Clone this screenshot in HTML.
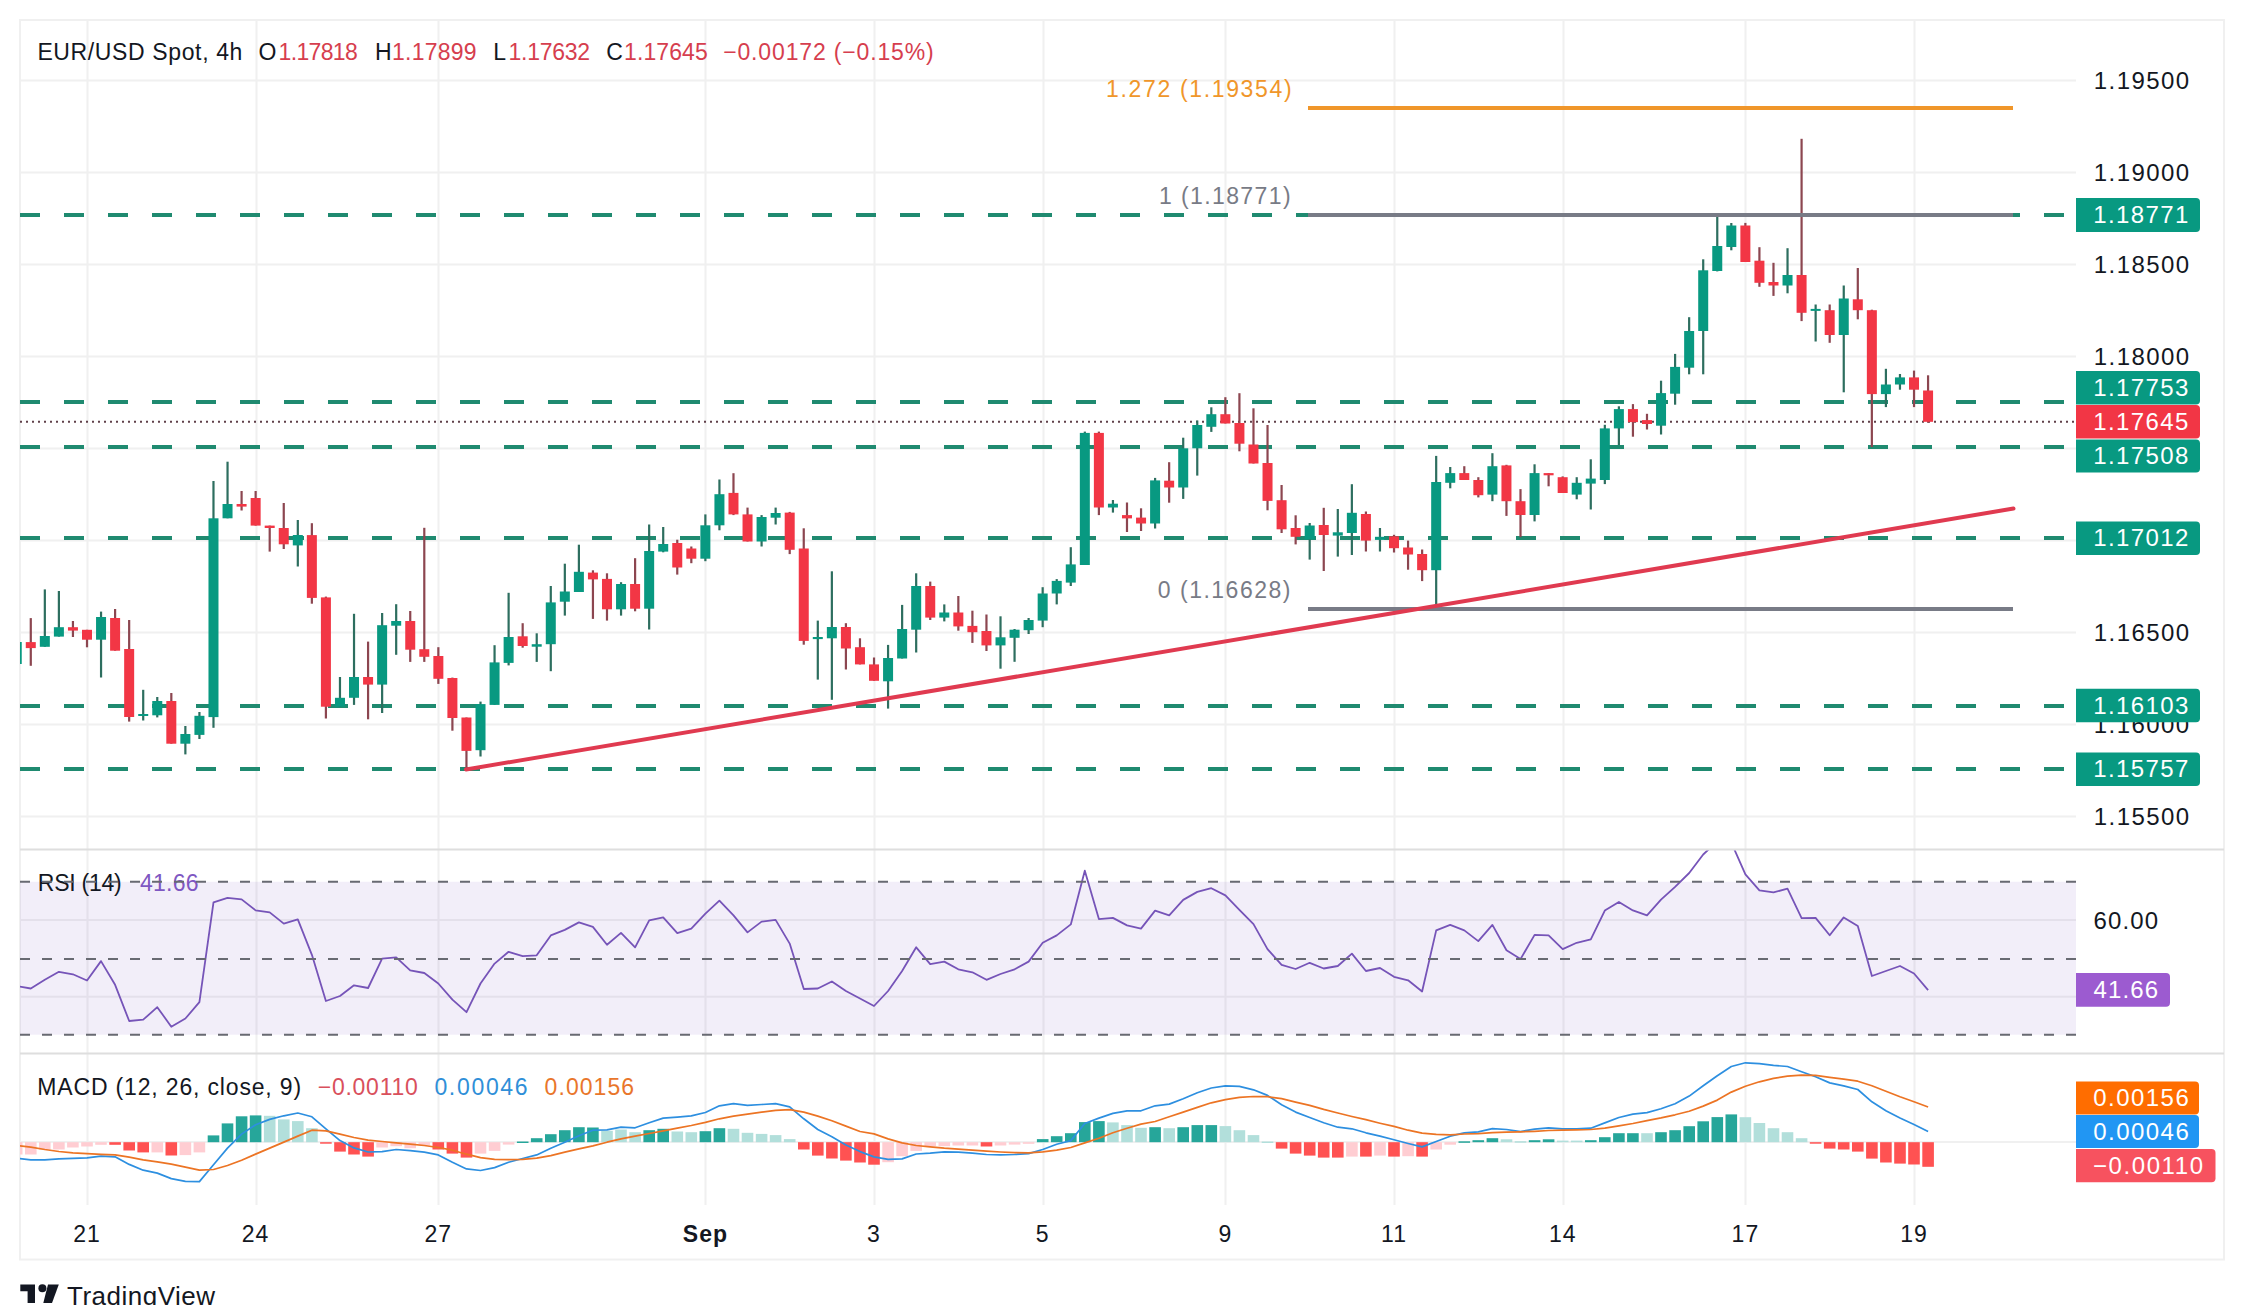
<!DOCTYPE html><html><head><meta charset="utf-8"><title>EUR/USD Spot 4h</title><style>html,body{margin:0;padding:0;background:#fff;overflow:hidden}svg{display:block}</style></head><body><svg width="2244" height="1305" viewBox="0 0 2244 1305"><rect x="0" y="0" width="2244" height="1305" fill="#ffffff"/><line x1="87.5" y1="19" x2="87.5" y2="1205" stroke="#f0f0f0" stroke-width="2"/><line x1="256.5" y1="19" x2="256.5" y2="1205" stroke="#f0f0f0" stroke-width="2"/><line x1="438.5" y1="19" x2="438.5" y2="1205" stroke="#f0f0f0" stroke-width="2"/><line x1="705.5" y1="19" x2="705.5" y2="1205" stroke="#f0f0f0" stroke-width="2"/><line x1="874.5" y1="19" x2="874.5" y2="1205" stroke="#f0f0f0" stroke-width="2"/><line x1="1043.5" y1="19" x2="1043.5" y2="1205" stroke="#f0f0f0" stroke-width="2"/><line x1="1225.5" y1="19" x2="1225.5" y2="1205" stroke="#f0f0f0" stroke-width="2"/><line x1="1394.5" y1="19" x2="1394.5" y2="1205" stroke="#f0f0f0" stroke-width="2"/><line x1="1563.5" y1="19" x2="1563.5" y2="1205" stroke="#f0f0f0" stroke-width="2"/><line x1="1745.5" y1="19" x2="1745.5" y2="1205" stroke="#f0f0f0" stroke-width="2"/><line x1="1914.5" y1="19" x2="1914.5" y2="1205" stroke="#f0f0f0" stroke-width="2"/><line x1="20" y1="80.49999999999983" x2="2076" y2="80.49999999999983" stroke="#f0f0f0" stroke-width="2"/><line x1="20" y1="172.49999999999787" x2="2076" y2="172.49999999999787" stroke="#f0f0f0" stroke-width="2"/><line x1="20" y1="264.5" x2="2076" y2="264.5" stroke="#f0f0f0" stroke-width="2"/><line x1="20" y1="356.49999999999807" x2="2076" y2="356.49999999999807" stroke="#f0f0f0" stroke-width="2"/><line x1="20" y1="448.50000000000017" x2="2076" y2="448.50000000000017" stroke="#f0f0f0" stroke-width="2"/><line x1="20" y1="540.4999999999982" x2="2076" y2="540.4999999999982" stroke="#f0f0f0" stroke-width="2"/><line x1="20" y1="632.5000000000003" x2="2076" y2="632.5000000000003" stroke="#f0f0f0" stroke-width="2"/><line x1="20" y1="724.4999999999984" x2="2076" y2="724.4999999999984" stroke="#f0f0f0" stroke-width="2"/><line x1="20" y1="816.5000000000005" x2="2076" y2="816.5000000000005" stroke="#f0f0f0" stroke-width="2"/><line x1="20" y1="920" x2="2076" y2="920" stroke="#f0f0f0" stroke-width="2"/><line x1="20" y1="996.7" x2="2076" y2="996.7" stroke="#f0f0f0" stroke-width="2"/><line x1="20" y1="1142" x2="2076" y2="1142" stroke="#f0f0f0" stroke-width="2"/><rect x="20" y="20" width="2204" height="1239.5" fill="none" stroke="#f0f0f0" stroke-width="2"/><line x1="20" y1="849.5" x2="2224" y2="849.5" stroke="#dedede" stroke-width="2"/><line x1="20" y1="1053.5" x2="2224" y2="1053.5" stroke="#dedede" stroke-width="2"/><defs><clipPath id="cm"><rect x="20" y="19" width="2056" height="830.5"/></clipPath><clipPath id="cr"><rect x="20" y="850.5" width="2056" height="203.0"/></clipPath><clipPath id="cd"><rect x="20" y="1054.5" width="2056" height="151.5"/></clipPath></defs><g clip-path="url(#cm)"><line x1="20" y1="215" x2="2076" y2="215" stroke="#1f8a70" stroke-width="4" stroke-dasharray="20 24"/><line x1="20" y1="402" x2="2076" y2="402" stroke="#1f8a70" stroke-width="4" stroke-dasharray="20 24"/><line x1="20" y1="447" x2="2076" y2="447" stroke="#1f8a70" stroke-width="4" stroke-dasharray="20 24"/><line x1="20" y1="538" x2="2076" y2="538" stroke="#1f8a70" stroke-width="4" stroke-dasharray="20 24"/><line x1="20" y1="706" x2="2076" y2="706" stroke="#1f8a70" stroke-width="4" stroke-dasharray="20 24"/><line x1="20" y1="769" x2="2076" y2="769" stroke="#1f8a70" stroke-width="4" stroke-dasharray="20 24"/><line x1="20" y1="421.8" x2="2076" y2="421.8" stroke="#60404a" stroke-width="2" stroke-dasharray="2 4"/><rect x="15.63" y="640.0" width="2.2" height="24.0" fill="#2d6e5f"/><rect x="11.73" y="642.0" width="10" height="22.0" fill="#089981"/><rect x="29.68" y="618.1" width="2.2" height="47.7" fill="#8c4650"/><rect x="25.78" y="642.1" width="10" height="6.0" fill="#f23645"/><rect x="43.73" y="589.4" width="2.2" height="57.4" fill="#2d6e5f"/><rect x="39.83" y="636.0" width="10" height="10.8" fill="#089981"/><rect x="57.79" y="591.0" width="2.2" height="45.6" fill="#2d6e5f"/><rect x="53.89" y="627.2" width="10" height="9.4" fill="#089981"/><rect x="71.84" y="621.0" width="2.2" height="16.0" fill="#8c4650"/><rect x="67.94" y="627.2" width="10" height="3.4" fill="#f23645"/><rect x="85.90" y="629.8" width="2.2" height="17.5" fill="#8c4650"/><rect x="82.00" y="629.8" width="10" height="9.9" fill="#f23645"/><rect x="99.95" y="611.6" width="2.2" height="65.9" fill="#2d6e5f"/><rect x="96.05" y="617.0" width="10" height="22.7" fill="#089981"/><rect x="114.00" y="609.0" width="2.2" height="41.7" fill="#8c4650"/><rect x="110.10" y="618.0" width="10" height="32.7" fill="#f23645"/><rect x="128.06" y="620.0" width="2.2" height="101.6" fill="#8c4650"/><rect x="124.16" y="649.0" width="10" height="68.0" fill="#f23645"/><rect x="142.11" y="689.8" width="2.2" height="30.7" fill="#2d6e5f"/><rect x="138.21" y="714.0" width="10" height="2.0" fill="#089981"/><rect x="156.17" y="697.0" width="2.2" height="20.4" fill="#2d6e5f"/><rect x="152.27" y="701.0" width="10" height="14.3" fill="#089981"/><rect x="170.22" y="693.0" width="2.2" height="50.7" fill="#8c4650"/><rect x="166.32" y="701.0" width="10" height="42.7" fill="#f23645"/><rect x="184.27" y="726.0" width="2.2" height="28.4" fill="#2d6e5f"/><rect x="180.37" y="734.0" width="10" height="9.7" fill="#089981"/><rect x="198.33" y="712.0" width="2.2" height="27.0" fill="#2d6e5f"/><rect x="194.43" y="715.8" width="10" height="19.1" fill="#089981"/><rect x="212.38" y="481.0" width="2.2" height="246.8" fill="#2d6e5f"/><rect x="208.48" y="518.3" width="10" height="198.8" fill="#089981"/><rect x="226.44" y="461.7" width="2.2" height="56.6" fill="#2d6e5f"/><rect x="222.54" y="504.0" width="10" height="14.3" fill="#089981"/><rect x="240.49" y="491.0" width="2.2" height="19.5" fill="#8c4650"/><rect x="236.59" y="504.0" width="10" height="2.6" fill="#f23645"/><rect x="254.54" y="491.0" width="2.2" height="34.6" fill="#8c4650"/><rect x="250.64" y="498.0" width="10" height="27.6" fill="#f23645"/><rect x="268.60" y="525.6" width="2.2" height="26.0" fill="#8c4650"/><rect x="264.70" y="525.6" width="10" height="2.4" fill="#f23645"/><rect x="282.65" y="503.0" width="2.2" height="46.0" fill="#8c4650"/><rect x="278.75" y="528.0" width="10" height="16.3" fill="#f23645"/><rect x="296.71" y="520.0" width="2.2" height="46.5" fill="#2d6e5f"/><rect x="292.81" y="535.0" width="10" height="10.4" fill="#089981"/><rect x="310.76" y="523.2" width="2.2" height="80.5" fill="#8c4650"/><rect x="306.86" y="535.1" width="10" height="62.8" fill="#f23645"/><rect x="324.81" y="596.6" width="2.2" height="121.9" fill="#8c4650"/><rect x="320.91" y="597.4" width="10" height="109.3" fill="#f23645"/><rect x="338.87" y="677.0" width="2.2" height="29.7" fill="#2d6e5f"/><rect x="334.97" y="697.8" width="10" height="8.9" fill="#089981"/><rect x="352.92" y="613.8" width="2.2" height="91.1" fill="#2d6e5f"/><rect x="349.02" y="677.0" width="10" height="20.8" fill="#089981"/><rect x="366.98" y="641.6" width="2.2" height="77.7" fill="#8c4650"/><rect x="363.08" y="677.0" width="10" height="7.6" fill="#f23645"/><rect x="381.03" y="613.0" width="2.2" height="100.0" fill="#2d6e5f"/><rect x="377.13" y="625.2" width="10" height="59.4" fill="#089981"/><rect x="395.08" y="604.2" width="2.2" height="50.6" fill="#2d6e5f"/><rect x="391.18" y="621.0" width="10" height="4.7" fill="#089981"/><rect x="409.14" y="611.0" width="2.2" height="50.9" fill="#8c4650"/><rect x="405.24" y="621.0" width="10" height="28.7" fill="#f23645"/><rect x="423.19" y="527.8" width="2.2" height="134.1" fill="#8c4650"/><rect x="419.29" y="649.2" width="10" height="7.6" fill="#f23645"/><rect x="437.25" y="647.2" width="2.2" height="36.7" fill="#8c4650"/><rect x="433.35" y="656.0" width="10" height="22.8" fill="#f23645"/><rect x="451.30" y="677.6" width="2.2" height="53.1" fill="#8c4650"/><rect x="447.40" y="678.0" width="10" height="40.0" fill="#f23645"/><rect x="465.35" y="717.5" width="2.2" height="52.4" fill="#8c4650"/><rect x="461.45" y="717.5" width="10" height="33.4" fill="#f23645"/><rect x="479.41" y="701.6" width="2.2" height="54.9" fill="#2d6e5f"/><rect x="475.51" y="704.1" width="10" height="46.1" fill="#089981"/><rect x="493.46" y="645.2" width="2.2" height="59.7" fill="#2d6e5f"/><rect x="489.56" y="662.4" width="10" height="42.5" fill="#089981"/><rect x="507.52" y="592.8" width="2.2" height="72.6" fill="#2d6e5f"/><rect x="503.62" y="637.0" width="10" height="25.9" fill="#089981"/><rect x="521.57" y="623.2" width="2.2" height="24.5" fill="#8c4650"/><rect x="517.67" y="636.3" width="10" height="9.7" fill="#f23645"/><rect x="535.62" y="633.3" width="2.2" height="28.6" fill="#2d6e5f"/><rect x="531.72" y="644.2" width="10" height="2.5" fill="#089981"/><rect x="549.68" y="586.0" width="2.2" height="85.2" fill="#2d6e5f"/><rect x="545.78" y="602.4" width="10" height="41.8" fill="#089981"/><rect x="563.73" y="563.7" width="2.2" height="51.9" fill="#2d6e5f"/><rect x="559.83" y="591.5" width="10" height="10.2" fill="#089981"/><rect x="577.79" y="544.7" width="2.2" height="46.8" fill="#2d6e5f"/><rect x="573.89" y="571.8" width="10" height="20.2" fill="#089981"/><rect x="591.84" y="570.3" width="2.2" height="48.6" fill="#8c4650"/><rect x="587.94" y="572.6" width="10" height="6.8" fill="#f23645"/><rect x="605.89" y="573.3" width="2.2" height="47.3" fill="#8c4650"/><rect x="601.99" y="578.9" width="10" height="30.4" fill="#f23645"/><rect x="619.95" y="582.2" width="2.2" height="33.4" fill="#2d6e5f"/><rect x="616.05" y="584.0" width="10" height="25.3" fill="#089981"/><rect x="634.00" y="558.2" width="2.2" height="53.1" fill="#8c4650"/><rect x="630.10" y="584.0" width="10" height="24.7" fill="#f23645"/><rect x="648.06" y="524.5" width="2.2" height="105.0" fill="#2d6e5f"/><rect x="644.16" y="551.0" width="10" height="57.7" fill="#089981"/><rect x="662.11" y="527.0" width="2.2" height="25.3" fill="#2d6e5f"/><rect x="658.21" y="544.0" width="10" height="7.6" fill="#089981"/><rect x="676.16" y="539.7" width="2.2" height="34.9" fill="#8c4650"/><rect x="672.26" y="543.0" width="10" height="24.5" fill="#f23645"/><rect x="690.22" y="546.5" width="2.2" height="16.7" fill="#8c4650"/><rect x="686.32" y="548.5" width="10" height="10.2" fill="#f23645"/><rect x="704.27" y="514.4" width="2.2" height="46.8" fill="#2d6e5f"/><rect x="700.37" y="525.3" width="10" height="33.4" fill="#089981"/><rect x="718.33" y="479.5" width="2.2" height="50.8" fill="#2d6e5f"/><rect x="714.43" y="494.2" width="10" height="31.1" fill="#089981"/><rect x="732.38" y="473.2" width="2.2" height="41.9" fill="#8c4650"/><rect x="728.48" y="492.9" width="10" height="21.5" fill="#f23645"/><rect x="746.43" y="507.6" width="2.2" height="33.9" fill="#8c4650"/><rect x="742.53" y="514.4" width="10" height="27.1" fill="#f23645"/><rect x="760.49" y="515.1" width="2.2" height="31.4" fill="#2d6e5f"/><rect x="756.59" y="517.0" width="10" height="24.5" fill="#089981"/><rect x="774.54" y="507.6" width="2.2" height="16.9" fill="#2d6e5f"/><rect x="770.64" y="513.0" width="10" height="4.7" fill="#089981"/><rect x="788.60" y="511.9" width="2.2" height="42.2" fill="#8c4650"/><rect x="784.70" y="512.6" width="10" height="37.2" fill="#f23645"/><rect x="802.65" y="528.3" width="2.2" height="116.4" fill="#8c4650"/><rect x="798.75" y="548.5" width="10" height="92.4" fill="#f23645"/><rect x="816.70" y="620.6" width="2.2" height="59.0" fill="#2d6e5f"/><rect x="812.80" y="637.0" width="10" height="2.1" fill="#089981"/><rect x="830.76" y="571.3" width="2.2" height="128.5" fill="#2d6e5f"/><rect x="826.86" y="627.0" width="10" height="11.3" fill="#089981"/><rect x="844.81" y="623.2" width="2.2" height="46.3" fill="#8c4650"/><rect x="840.91" y="627.0" width="10" height="21.5" fill="#f23645"/><rect x="858.87" y="638.3" width="2.2" height="26.1" fill="#8c4650"/><rect x="854.97" y="647.2" width="10" height="17.2" fill="#f23645"/><rect x="872.92" y="657.5" width="2.2" height="23.3" fill="#8c4650"/><rect x="869.02" y="664.4" width="10" height="16.4" fill="#f23645"/><rect x="886.97" y="644.9" width="2.2" height="63.7" fill="#2d6e5f"/><rect x="883.07" y="658.0" width="10" height="23.3" fill="#089981"/><rect x="901.03" y="604.9" width="2.2" height="53.6" fill="#2d6e5f"/><rect x="897.13" y="629.0" width="10" height="29.5" fill="#089981"/><rect x="915.08" y="573.3" width="2.2" height="79.2" fill="#2d6e5f"/><rect x="911.18" y="586.0" width="10" height="43.7" fill="#089981"/><rect x="929.14" y="581.6" width="2.2" height="38.4" fill="#8c4650"/><rect x="925.24" y="586.0" width="10" height="31.6" fill="#f23645"/><rect x="943.19" y="604.4" width="2.2" height="17.0" fill="#2d6e5f"/><rect x="939.29" y="612.5" width="10" height="5.1" fill="#089981"/><rect x="957.24" y="596.0" width="2.2" height="34.7" fill="#8c4650"/><rect x="953.34" y="612.5" width="10" height="13.9" fill="#f23645"/><rect x="971.30" y="610.7" width="2.2" height="32.2" fill="#8c4650"/><rect x="967.40" y="625.9" width="10" height="6.3" fill="#f23645"/><rect x="985.35" y="614.5" width="2.2" height="36.5" fill="#8c4650"/><rect x="981.45" y="631.0" width="10" height="14.4" fill="#f23645"/><rect x="999.41" y="616.3" width="2.2" height="52.4" fill="#2d6e5f"/><rect x="995.51" y="637.3" width="10" height="8.1" fill="#089981"/><rect x="1013.46" y="629.0" width="2.2" height="32.8" fill="#2d6e5f"/><rect x="1009.56" y="629.7" width="10" height="8.1" fill="#089981"/><rect x="1027.51" y="618.0" width="2.2" height="16.0" fill="#2d6e5f"/><rect x="1023.61" y="620.0" width="10" height="10.2" fill="#089981"/><rect x="1041.57" y="587.2" width="2.2" height="40.0" fill="#2d6e5f"/><rect x="1037.67" y="593.5" width="10" height="27.1" fill="#089981"/><rect x="1055.62" y="579.1" width="2.2" height="25.3" fill="#2d6e5f"/><rect x="1051.72" y="580.9" width="10" height="12.6" fill="#089981"/><rect x="1069.68" y="547.2" width="2.2" height="38.8" fill="#2d6e5f"/><rect x="1065.78" y="564.4" width="10" height="18.2" fill="#089981"/><rect x="1083.73" y="431.6" width="2.2" height="133.4" fill="#2d6e5f"/><rect x="1079.83" y="432.9" width="10" height="132.1" fill="#089981"/><rect x="1097.78" y="431.6" width="2.2" height="83.5" fill="#8c4650"/><rect x="1093.88" y="432.9" width="10" height="74.6" fill="#f23645"/><rect x="1111.84" y="500.0" width="2.2" height="12.6" fill="#2d6e5f"/><rect x="1107.94" y="503.7" width="10" height="3.8" fill="#089981"/><rect x="1125.89" y="502.5" width="2.2" height="29.5" fill="#8c4650"/><rect x="1121.99" y="515.1" width="10" height="3.3" fill="#f23645"/><rect x="1139.95" y="508.3" width="2.2" height="22.7" fill="#8c4650"/><rect x="1136.05" y="517.6" width="10" height="5.9" fill="#f23645"/><rect x="1154.00" y="477.9" width="2.2" height="50.6" fill="#2d6e5f"/><rect x="1150.10" y="480.4" width="10" height="43.1" fill="#089981"/><rect x="1168.05" y="462.2" width="2.2" height="40.5" fill="#8c4650"/><rect x="1164.15" y="480.7" width="10" height="6.8" fill="#f23645"/><rect x="1182.11" y="437.7" width="2.2" height="61.2" fill="#2d6e5f"/><rect x="1178.21" y="448.3" width="10" height="39.2" fill="#089981"/><rect x="1196.16" y="420.5" width="2.2" height="55.1" fill="#2d6e5f"/><rect x="1192.26" y="425.0" width="10" height="23.3" fill="#089981"/><rect x="1210.22" y="407.3" width="2.2" height="24.6" fill="#2d6e5f"/><rect x="1206.32" y="414.2" width="10" height="12.6" fill="#089981"/><rect x="1224.27" y="397.2" width="2.2" height="26.3" fill="#8c4650"/><rect x="1220.37" y="414.2" width="10" height="9.3" fill="#f23645"/><rect x="1238.32" y="393.2" width="2.2" height="58.1" fill="#8c4650"/><rect x="1234.42" y="423.0" width="10" height="20.7" fill="#f23645"/><rect x="1252.38" y="408.3" width="2.2" height="55.2" fill="#8c4650"/><rect x="1248.48" y="444.5" width="10" height="19.0" fill="#f23645"/><rect x="1266.43" y="425.0" width="2.2" height="85.3" fill="#8c4650"/><rect x="1262.53" y="463.0" width="10" height="37.9" fill="#f23645"/><rect x="1280.49" y="485.0" width="2.2" height="48.0" fill="#8c4650"/><rect x="1276.59" y="500.2" width="10" height="29.1" fill="#f23645"/><rect x="1294.54" y="515.3" width="2.2" height="29.1" fill="#8c4650"/><rect x="1290.64" y="528.0" width="10" height="8.8" fill="#f23645"/><rect x="1308.59" y="523.0" width="2.2" height="36.6" fill="#2d6e5f"/><rect x="1304.69" y="525.5" width="10" height="13.9" fill="#089981"/><rect x="1322.65" y="507.8" width="2.2" height="63.2" fill="#8c4650"/><rect x="1318.75" y="525.0" width="10" height="10.0" fill="#f23645"/><rect x="1336.70" y="509.0" width="2.2" height="47.6" fill="#2d6e5f"/><rect x="1332.80" y="532.3" width="10" height="3.3" fill="#089981"/><rect x="1350.76" y="484.2" width="2.2" height="70.8" fill="#2d6e5f"/><rect x="1346.86" y="512.8" width="10" height="20.2" fill="#089981"/><rect x="1364.81" y="511.5" width="2.2" height="40.0" fill="#8c4650"/><rect x="1360.91" y="514.0" width="10" height="26.6" fill="#f23645"/><rect x="1378.86" y="528.0" width="2.2" height="23.5" fill="#2d6e5f"/><rect x="1374.96" y="536.8" width="10" height="3.1" fill="#089981"/><rect x="1392.92" y="534.8" width="2.2" height="17.7" fill="#8c4650"/><rect x="1389.02" y="536.3" width="10" height="11.9" fill="#f23645"/><rect x="1406.97" y="540.6" width="2.2" height="29.1" fill="#8c4650"/><rect x="1403.07" y="547.5" width="10" height="7.0" fill="#f23645"/><rect x="1421.03" y="549.5" width="2.2" height="31.6" fill="#8c4650"/><rect x="1417.13" y="554.0" width="10" height="16.2" fill="#f23645"/><rect x="1435.08" y="455.9" width="2.2" height="154.3" fill="#2d6e5f"/><rect x="1431.18" y="482.0" width="10" height="88.2" fill="#089981"/><rect x="1449.13" y="467.0" width="2.2" height="21.3" fill="#2d6e5f"/><rect x="1445.23" y="473.1" width="10" height="9.7" fill="#089981"/><rect x="1463.19" y="466.2" width="2.2" height="13.8" fill="#8c4650"/><rect x="1459.29" y="473.1" width="10" height="6.9" fill="#f23645"/><rect x="1477.24" y="477.2" width="2.2" height="20.2" fill="#8c4650"/><rect x="1473.34" y="480.0" width="10" height="15.2" fill="#f23645"/><rect x="1491.30" y="453.2" width="2.2" height="48.0" fill="#2d6e5f"/><rect x="1487.40" y="466.2" width="10" height="28.4" fill="#089981"/><rect x="1505.35" y="464.8" width="2.2" height="51.1" fill="#8c4650"/><rect x="1501.45" y="465.4" width="10" height="35.8" fill="#f23645"/><rect x="1519.40" y="489.1" width="2.2" height="48.0" fill="#8c4650"/><rect x="1515.50" y="501.2" width="10" height="13.8" fill="#f23645"/><rect x="1533.46" y="464.3" width="2.2" height="57.1" fill="#2d6e5f"/><rect x="1529.56" y="473.1" width="10" height="41.9" fill="#089981"/><rect x="1547.51" y="473.1" width="2.2" height="13.2" fill="#8c4650"/><rect x="1543.61" y="473.1" width="10" height="2.2" fill="#f23645"/><rect x="1561.57" y="476.4" width="2.2" height="16.6" fill="#8c4650"/><rect x="1557.67" y="477.2" width="10" height="15.8" fill="#f23645"/><rect x="1575.62" y="477.2" width="2.2" height="22.1" fill="#2d6e5f"/><rect x="1571.72" y="482.8" width="10" height="11.8" fill="#089981"/><rect x="1589.67" y="459.3" width="2.2" height="50.2" fill="#2d6e5f"/><rect x="1585.77" y="478.6" width="10" height="5.0" fill="#089981"/><rect x="1603.73" y="424.8" width="2.2" height="59.3" fill="#2d6e5f"/><rect x="1599.83" y="428.4" width="10" height="51.6" fill="#089981"/><rect x="1617.78" y="406.3" width="2.2" height="38.7" fill="#2d6e5f"/><rect x="1613.88" y="409.1" width="10" height="19.3" fill="#089981"/><rect x="1631.84" y="404.1" width="2.2" height="32.6" fill="#8c4650"/><rect x="1627.94" y="409.1" width="10" height="13.0" fill="#f23645"/><rect x="1645.89" y="413.8" width="2.2" height="15.7" fill="#8c4650"/><rect x="1641.99" y="420.1" width="10" height="3.9" fill="#f23645"/><rect x="1659.94" y="380.7" width="2.2" height="53.8" fill="#2d6e5f"/><rect x="1656.04" y="393.1" width="10" height="32.6" fill="#089981"/><rect x="1674.00" y="353.9" width="2.2" height="50.8" fill="#2d6e5f"/><rect x="1670.10" y="366.9" width="10" height="26.8" fill="#089981"/><rect x="1688.05" y="317.2" width="2.2" height="57.1" fill="#2d6e5f"/><rect x="1684.15" y="331.0" width="10" height="36.7" fill="#089981"/><rect x="1702.11" y="259.3" width="2.2" height="115.0" fill="#2d6e5f"/><rect x="1698.21" y="270.3" width="10" height="60.7" fill="#089981"/><rect x="1716.16" y="213.8" width="2.2" height="57.6" fill="#2d6e5f"/><rect x="1712.26" y="246.0" width="10" height="25.0" fill="#089981"/><rect x="1730.21" y="223.0" width="2.2" height="27.3" fill="#2d6e5f"/><rect x="1726.31" y="225.5" width="10" height="21.5" fill="#089981"/><rect x="1744.27" y="222.9" width="2.2" height="39.1" fill="#8c4650"/><rect x="1740.37" y="225.5" width="10" height="36.5" fill="#f23645"/><rect x="1758.32" y="247.2" width="2.2" height="39.6" fill="#8c4650"/><rect x="1754.42" y="260.7" width="10" height="22.1" fill="#f23645"/><rect x="1772.38" y="262.8" width="2.2" height="33.1" fill="#8c4650"/><rect x="1768.48" y="282.0" width="10" height="3.5" fill="#f23645"/><rect x="1786.43" y="248.2" width="2.2" height="45.1" fill="#2d6e5f"/><rect x="1782.53" y="275.0" width="10" height="10.5" fill="#089981"/><rect x="1800.48" y="138.8" width="2.2" height="182.3" fill="#8c4650"/><rect x="1796.58" y="275.0" width="10" height="37.8" fill="#f23645"/><rect x="1814.54" y="304.5" width="2.2" height="37.0" fill="#2d6e5f"/><rect x="1810.64" y="308.9" width="10" height="2.0" fill="#089981"/><rect x="1828.59" y="304.5" width="2.2" height="38.3" fill="#8c4650"/><rect x="1824.69" y="310.2" width="10" height="24.8" fill="#f23645"/><rect x="1842.65" y="285.5" width="2.2" height="106.8" fill="#2d6e5f"/><rect x="1838.75" y="298.5" width="10" height="36.5" fill="#089981"/><rect x="1856.70" y="268.0" width="2.2" height="51.3" fill="#8c4650"/><rect x="1852.80" y="299.3" width="10" height="10.9" fill="#f23645"/><rect x="1870.75" y="309.7" width="2.2" height="137.3" fill="#8c4650"/><rect x="1866.85" y="310.2" width="10" height="83.9" fill="#f23645"/><rect x="1884.81" y="368.8" width="2.2" height="38.3" fill="#2d6e5f"/><rect x="1880.91" y="384.5" width="10" height="9.6" fill="#089981"/><rect x="1898.86" y="374.0" width="2.2" height="15.7" fill="#2d6e5f"/><rect x="1894.96" y="377.4" width="10" height="7.1" fill="#089981"/><rect x="1912.92" y="370.6" width="2.2" height="36.5" fill="#8c4650"/><rect x="1909.02" y="377.4" width="10" height="12.3" fill="#f23645"/><rect x="1926.97" y="375.3" width="2.2" height="47.5" fill="#8c4650"/><rect x="1923.07" y="390.5" width="10" height="31.3" fill="#f23645"/><line x1="1308" y1="108" x2="2013" y2="108" stroke="#f0962a" stroke-width="4"/><line x1="1308" y1="215" x2="2013" y2="215" stroke="#787b86" stroke-width="4"/><line x1="1308" y1="609" x2="2013" y2="609" stroke="#787b86" stroke-width="4"/><line x1="466" y1="769.5" x2="2013.5" y2="508.5" stroke="#e03a50" stroke-width="4" stroke-linecap="round"/></g><text x="1106.00" y="97" font-family='"Liberation Sans", sans-serif' font-size="23" letter-spacing="1.657" fill="#f0962a">1.272 (1.19354)</text><text x="1158.90" y="204" font-family='"Liberation Sans", sans-serif' font-size="23" letter-spacing="1.410" fill="#787b86">1 (1.18771)</text><text x="1157.80" y="598" font-family='"Liberation Sans", sans-serif' font-size="23" letter-spacing="1.500" fill="#787b86">0 (1.16628)</text><text x="2093.80" y="89.0" font-family='"Liberation Sans", sans-serif' font-size="24" letter-spacing="1.433" fill="#131722">1.19500</text><text x="2093.80" y="181.0" font-family='"Liberation Sans", sans-serif' font-size="24" letter-spacing="1.433" fill="#131722">1.19000</text><text x="2093.80" y="273.0" font-family='"Liberation Sans", sans-serif' font-size="24" letter-spacing="1.433" fill="#131722">1.18500</text><text x="2093.80" y="365.0" font-family='"Liberation Sans", sans-serif' font-size="24" letter-spacing="1.433" fill="#131722">1.18000</text><text x="2093.80" y="641.0" font-family='"Liberation Sans", sans-serif' font-size="24" letter-spacing="1.433" fill="#131722">1.16500</text><text x="2093.80" y="733.0" font-family='"Liberation Sans", sans-serif' font-size="24" letter-spacing="1.433" fill="#131722">1.16000</text><text x="2093.80" y="825.0" font-family='"Liberation Sans", sans-serif' font-size="24" letter-spacing="1.433" fill="#131722">1.15500</text><path d="M2076,198 H2196 Q2200,198 2200,202 V228 Q2200,232 2196,232 H2076 Z" fill="#089981"/><text x="2093.30" y="223.1" font-family='"Liberation Sans", sans-serif' font-size="24" letter-spacing="1.367" fill="#ffffff">1.18771</text><path d="M2076,371 H2196 Q2200,371 2200,375 V400.5 Q2200,404.5 2196,404.5 H2076 Z" fill="#089981"/><text x="2093.30" y="395.9" font-family='"Liberation Sans", sans-serif' font-size="24" letter-spacing="1.367" fill="#ffffff">1.17753</text><path d="M2076,405 H2196 Q2200,405 2200,409 V434.5 Q2200,438.5 2196,438.5 H2076 Z" fill="#f23645"/><text x="2093.30" y="429.9" font-family='"Liberation Sans", sans-serif' font-size="24" letter-spacing="1.367" fill="#ffffff">1.17645</text><path d="M2076,439.5 H2196 Q2200,439.5 2200,443.5 V468.5 Q2200,472.5 2196,472.5 H2076 Z" fill="#089981"/><text x="2093.30" y="464.1" font-family='"Liberation Sans", sans-serif' font-size="24" letter-spacing="1.367" fill="#ffffff">1.17508</text><path d="M2076,521.5920000000001 H2196 Q2200,521.5920000000001 2200,525.5920000000001 V550.9920000000002 Q2200,554.9920000000002 2196,554.9920000000002 H2076 Z" fill="#089981"/><text x="2093.30" y="546.4" font-family='"Liberation Sans", sans-serif' font-size="24" letter-spacing="1.367" fill="#ffffff">1.17012</text><path d="M2076,688.8480000000009 H2196 Q2200,688.8480000000009 2200,692.8480000000009 V718.248000000001 Q2200,722.248000000001 2196,722.248000000001 H2076 Z" fill="#089981"/><text x="2093.30" y="713.6" font-family='"Liberation Sans", sans-serif' font-size="24" letter-spacing="1.367" fill="#ffffff">1.16103</text><path d="M2076,752.5120000000011 H2196 Q2200,752.5120000000011 2200,756.5120000000011 V781.9120000000012 Q2200,785.9120000000012 2196,785.9120000000012 H2076 Z" fill="#089981"/><text x="2093.30" y="777.3" font-family='"Liberation Sans", sans-serif' font-size="24" letter-spacing="1.367" fill="#ffffff">1.15757</text><text x="37.40" y="60" font-family='"Liberation Sans", sans-serif' font-size="23" letter-spacing="0.627" fill="#131722">EUR/USD Spot, 4h</text><text x="258.40" y="60" font-family='"Liberation Sans", sans-serif' font-size="23" letter-spacing="0.000" fill="#131722">O</text><text x="278.60" y="60" font-family='"Liberation Sans", sans-serif' font-size="23" letter-spacing="-0.667" fill="#d63e4e">1.17818</text><text x="375.10" y="60" font-family='"Liberation Sans", sans-serif' font-size="23" letter-spacing="0.000" fill="#131722">H</text><text x="392.00" y="60" font-family='"Liberation Sans", sans-serif' font-size="23" letter-spacing="0.250" fill="#d63e4e">1.17899</text><text x="493.30" y="60" font-family='"Liberation Sans", sans-serif' font-size="23" letter-spacing="0.000" fill="#131722">L</text><text x="508.50" y="60" font-family='"Liberation Sans", sans-serif' font-size="23" letter-spacing="-0.250" fill="#d63e4e">1.17632</text><text x="606.20" y="60" font-family='"Liberation Sans", sans-serif' font-size="23" letter-spacing="0.000" fill="#131722">C</text><text x="624.00" y="60" font-family='"Liberation Sans", sans-serif' font-size="23" letter-spacing="0.100" fill="#d63e4e">1.17645</text><text x="723.20" y="60" font-family='"Liberation Sans", sans-serif' font-size="23" letter-spacing="0.850" fill="#d63e4e">−0.00172 (−0.15%)</text><g clip-path="url(#cr)"><rect x="20" y="881.8" width="2056" height="152.9000000000001" fill="rgba(126,87,194,0.1)"/><polyline points="16.7,986.0 30.8,988.5 44.8,979.8 58.9,971.8 72.9,974.3 87.0,980.5 101.0,961.1 115.1,984.8 129.2,1021.0 143.2,1019.7 157.3,1007.2 171.3,1026.7 185.4,1018.5 199.4,1002.2 213.5,902.4 227.5,897.9 241.6,899.4 255.6,910.4 269.7,912.4 283.8,923.6 297.8,919.4 311.9,954.8 325.9,1001.0 340.0,996.0 354.0,985.3 368.1,988.0 382.1,958.6 396.2,957.3 410.2,970.3 424.3,973.0 438.3,983.5 452.4,999.7 466.5,1012.2 480.5,983.5 494.6,963.6 508.6,951.8 522.7,956.1 536.7,955.3 550.8,935.4 564.8,929.9 578.9,922.4 592.9,926.9 607.0,944.8 621.0,932.9 635.1,947.3 649.2,920.4 663.2,917.4 677.3,933.1 691.3,928.6 705.4,913.6 719.4,900.7 733.5,915.4 747.5,932.4 761.6,921.6 775.6,919.9 789.7,943.6 803.8,989.0 817.8,988.5 831.9,981.5 845.9,991.0 860.0,998.5 874.0,1006.0 888.1,991.0 902.1,971.0 916.2,947.3 930.2,964.1 944.3,961.6 958.3,969.3 972.4,972.3 986.5,979.8 1000.5,974.0 1014.6,969.3 1028.6,961.6 1042.7,942.8 1056.7,935.4 1070.8,924.4 1084.8,870.7 1098.9,919.1 1112.9,917.9 1127.0,925.4 1141.0,928.6 1155.1,910.6 1169.2,915.4 1183.2,899.9 1197.3,891.9 1211.3,888.2 1225.4,895.4 1239.4,909.9 1253.5,924.1 1267.5,949.1 1281.6,964.8 1295.6,969.0 1309.7,962.8 1323.7,968.5 1337.8,966.0 1351.9,953.6 1365.9,971.0 1380.0,968.0 1394.0,976.8 1408.1,980.3 1422.1,991.5 1436.2,930.4 1450.2,924.9 1464.3,930.4 1478.3,941.1 1492.4,924.9 1506.5,950.3 1520.5,959.1 1534.6,934.9 1548.6,935.4 1562.7,949.1 1576.7,942.8 1590.8,939.3 1604.8,910.6 1618.9,901.9 1632.9,910.4 1647.0,915.4 1661.0,899.7 1675.1,886.9 1689.2,873.0 1703.2,854.5 1717.3,841.3 1731.3,842.5 1745.4,874.4 1759.4,890.4 1773.5,892.4 1787.5,888.7 1801.6,918.1 1815.6,917.9 1829.7,935.3 1843.7,917.4 1857.8,926.1 1871.9,976.0 1885.9,971.0 1900.0,966.0 1914.0,973.5 1928.1,990.2" fill="none" stroke="#7654b8" stroke-width="1.8" stroke-linejoin="round"/></g><text x="37.80" y="891" font-family='"Liberation Sans", sans-serif' font-size="23" letter-spacing="-0.257" fill="#131722">RSI (14)</text><text x="139.90" y="891" font-family='"Liberation Sans", sans-serif' font-size="23" letter-spacing="0.300" fill="#7e57c2">41.66</text><line x1="20" y1="881.8" x2="2076" y2="881.8" stroke="#686a72" stroke-width="2" stroke-dasharray="10 12"/><line x1="20" y1="958.9" x2="2076" y2="958.9" stroke="#686a72" stroke-width="2" stroke-dasharray="10 12"/><line x1="20" y1="1034.7" x2="2076" y2="1034.7" stroke="#686a72" stroke-width="2" stroke-dasharray="10 12"/><text x="2093.50" y="928.8" font-family='"Liberation Sans", sans-serif' font-size="24" letter-spacing="1.125" fill="#131722">60.00</text><path d="M2076,973 H2166 Q2170,973 2170,977 V1002.7 Q2170,1006.7 2166,1006.7 H2076 Z" fill="#9c5bd0"/><text x="2093.50" y="998.0" font-family='"Liberation Sans", sans-serif' font-size="24" letter-spacing="1.125" fill="#ffffff">41.66</text><g clip-path="url(#cd)"><rect x="10.9" y="1142.2" width="11.6" height="12.3" fill="#ffcdd2"/><rect x="25.0" y="1142.2" width="11.6" height="12.3" fill="#ffcdd2"/><rect x="39.0" y="1142.2" width="11.6" height="7.3" fill="#ffcdd2"/><rect x="53.1" y="1142.2" width="11.6" height="7.3" fill="#ffcdd2"/><rect x="67.1" y="1142.2" width="11.6" height="5.3" fill="#ffcdd2"/><rect x="81.2" y="1142.2" width="11.6" height="4.3" fill="#ffcdd2"/><rect x="95.2" y="1142.2" width="11.6" height="2.6" fill="#ffcdd2"/><rect x="109.3" y="1142.2" width="11.6" height="2.6" fill="#ff5252"/><rect x="123.4" y="1142.2" width="11.6" height="8.3" fill="#ff5252"/><rect x="137.4" y="1142.2" width="11.6" height="10.2" fill="#ff5252"/><rect x="151.5" y="1142.2" width="11.6" height="10.2" fill="#ffcdd2"/><rect x="165.5" y="1142.2" width="11.6" height="13.3" fill="#ff5252"/><rect x="179.6" y="1142.2" width="11.6" height="12.9" fill="#ffcdd2"/><rect x="193.6" y="1142.2" width="11.6" height="10.2" fill="#ffcdd2"/><rect x="207.7" y="1135.4" width="11.6" height="6.8" fill="#26a69a"/><rect x="221.7" y="1123.4" width="11.6" height="18.8" fill="#26a69a"/><rect x="235.8" y="1116.3" width="11.6" height="25.9" fill="#26a69a"/><rect x="249.8" y="1115.4" width="11.6" height="26.8" fill="#26a69a"/><rect x="263.9" y="1115.8" width="11.6" height="26.4" fill="#b2dfdb"/><rect x="278.0" y="1119.4" width="11.6" height="22.8" fill="#b2dfdb"/><rect x="292.0" y="1121.1" width="11.6" height="21.1" fill="#b2dfdb"/><rect x="306.1" y="1128.2" width="11.6" height="14.0" fill="#b2dfdb"/><rect x="320.1" y="1142.2" width="11.6" height="1.5" fill="#ff5252"/><rect x="334.2" y="1142.2" width="11.6" height="9.4" fill="#ff5252"/><rect x="348.2" y="1142.2" width="11.6" height="12.3" fill="#ff5252"/><rect x="362.3" y="1142.2" width="11.6" height="14.4" fill="#ff5252"/><rect x="376.3" y="1142.2" width="11.6" height="5.3" fill="#ffcdd2"/><rect x="390.4" y="1142.2" width="11.6" height="4.0" fill="#ffcdd2"/><rect x="404.4" y="1142.2" width="11.6" height="6.0" fill="#ffcdd2"/><rect x="418.5" y="1142.2" width="11.6" height="3.3" fill="#ffcdd2"/><rect x="432.5" y="1142.2" width="11.6" height="7.3" fill="#ff5252"/><rect x="446.6" y="1142.2" width="11.6" height="11.4" fill="#ff5252"/><rect x="460.7" y="1142.2" width="11.6" height="15.4" fill="#ff5252"/><rect x="474.7" y="1142.2" width="11.6" height="11.4" fill="#ffcdd2"/><rect x="488.8" y="1142.2" width="11.6" height="8.7" fill="#ffcdd2"/><rect x="502.8" y="1142.2" width="11.6" height="2.4" fill="#ffcdd2"/><rect x="516.9" y="1141.5" width="11.6" height="1.5" fill="#26a69a"/><rect x="530.9" y="1138.2" width="11.6" height="4.0" fill="#26a69a"/><rect x="545.0" y="1134.2" width="11.6" height="8.0" fill="#26a69a"/><rect x="559.0" y="1130.2" width="11.6" height="12.0" fill="#26a69a"/><rect x="573.1" y="1127.2" width="11.6" height="15.0" fill="#26a69a"/><rect x="587.1" y="1127.5" width="11.6" height="14.7" fill="#26a69a"/><rect x="601.2" y="1130.8" width="11.6" height="11.4" fill="#b2dfdb"/><rect x="615.2" y="1129.5" width="11.6" height="12.7" fill="#b2dfdb"/><rect x="629.3" y="1132.2" width="11.6" height="10.0" fill="#b2dfdb"/><rect x="643.4" y="1130.2" width="11.6" height="12.0" fill="#26a69a"/><rect x="657.4" y="1128.8" width="11.6" height="13.4" fill="#26a69a"/><rect x="671.5" y="1131.5" width="11.6" height="10.7" fill="#b2dfdb"/><rect x="685.5" y="1132.2" width="11.6" height="10.0" fill="#b2dfdb"/><rect x="699.6" y="1131.2" width="11.6" height="11.0" fill="#26a69a"/><rect x="713.6" y="1128.2" width="11.6" height="14.0" fill="#26a69a"/><rect x="727.7" y="1128.8" width="11.6" height="13.4" fill="#b2dfdb"/><rect x="741.7" y="1132.8" width="11.6" height="9.4" fill="#b2dfdb"/><rect x="755.8" y="1133.9" width="11.6" height="8.3" fill="#b2dfdb"/><rect x="769.8" y="1135.1" width="11.6" height="7.1" fill="#b2dfdb"/><rect x="783.9" y="1139.1" width="11.6" height="3.1" fill="#b2dfdb"/><rect x="798.0" y="1142.2" width="11.6" height="7.3" fill="#ff5252"/><rect x="812.0" y="1142.2" width="11.6" height="13.4" fill="#ff5252"/><rect x="826.1" y="1142.2" width="11.6" height="16.3" fill="#ff5252"/><rect x="840.1" y="1142.2" width="11.6" height="18.4" fill="#ff5252"/><rect x="854.2" y="1142.2" width="11.6" height="20.3" fill="#ff5252"/><rect x="868.2" y="1142.2" width="11.6" height="22.5" fill="#ff5252"/><rect x="882.3" y="1142.2" width="11.6" height="20.0" fill="#ffcdd2"/><rect x="896.3" y="1142.2" width="11.6" height="14.0" fill="#ffcdd2"/><rect x="910.4" y="1142.2" width="11.6" height="8.7" fill="#ffcdd2"/><rect x="924.4" y="1142.2" width="11.6" height="4.0" fill="#ffcdd2"/><rect x="938.5" y="1142.2" width="11.6" height="4.0" fill="#ffcdd2"/><rect x="952.5" y="1142.2" width="11.6" height="3.3" fill="#ffcdd2"/><rect x="966.6" y="1142.2" width="11.6" height="3.3" fill="#ffcdd2"/><rect x="980.7" y="1142.2" width="11.6" height="4.3" fill="#ff5252"/><rect x="994.7" y="1142.2" width="11.6" height="3.3" fill="#ffcdd2"/><rect x="1008.8" y="1142.2" width="11.6" height="2.4" fill="#ffcdd2"/><rect x="1022.8" y="1142.2" width="11.6" height="1.6" fill="#ffcdd2"/><rect x="1036.9" y="1139.1" width="11.6" height="3.1" fill="#26a69a"/><rect x="1050.9" y="1136.2" width="11.6" height="6.0" fill="#26a69a"/><rect x="1065.0" y="1133.2" width="11.6" height="9.0" fill="#26a69a"/><rect x="1079.0" y="1122.1" width="11.6" height="20.1" fill="#26a69a"/><rect x="1093.1" y="1121.1" width="11.6" height="21.1" fill="#26a69a"/><rect x="1107.1" y="1122.4" width="11.6" height="19.8" fill="#b2dfdb"/><rect x="1121.2" y="1125.1" width="11.6" height="17.1" fill="#b2dfdb"/><rect x="1135.2" y="1127.8" width="11.6" height="14.4" fill="#b2dfdb"/><rect x="1149.3" y="1127.2" width="11.6" height="15.0" fill="#26a69a"/><rect x="1163.4" y="1128.2" width="11.6" height="14.0" fill="#b2dfdb"/><rect x="1177.4" y="1127.2" width="11.6" height="15.0" fill="#26a69a"/><rect x="1191.5" y="1125.1" width="11.6" height="17.1" fill="#26a69a"/><rect x="1205.5" y="1125.1" width="11.6" height="17.1" fill="#26a69a"/><rect x="1219.6" y="1126.1" width="11.6" height="16.1" fill="#b2dfdb"/><rect x="1233.6" y="1130.2" width="11.6" height="12.0" fill="#b2dfdb"/><rect x="1247.7" y="1135.1" width="11.6" height="7.1" fill="#b2dfdb"/><rect x="1261.7" y="1141.5" width="11.6" height="1.5" fill="#b2dfdb"/><rect x="1275.8" y="1142.2" width="11.6" height="6.4" fill="#ff5252"/><rect x="1289.8" y="1142.2" width="11.6" height="11.4" fill="#ff5252"/><rect x="1303.9" y="1142.2" width="11.6" height="13.4" fill="#ff5252"/><rect x="1317.9" y="1142.2" width="11.6" height="15.4" fill="#ff5252"/><rect x="1332.0" y="1142.2" width="11.6" height="15.4" fill="#ff5252"/><rect x="1346.1" y="1142.2" width="11.6" height="14.4" fill="#ffcdd2"/><rect x="1360.1" y="1142.2" width="11.6" height="14.4" fill="#ff5252"/><rect x="1374.2" y="1142.2" width="11.6" height="13.4" fill="#ffcdd2"/><rect x="1388.2" y="1142.2" width="11.6" height="14.4" fill="#ff5252"/><rect x="1402.3" y="1142.2" width="11.6" height="14.0" fill="#ffcdd2"/><rect x="1416.3" y="1142.2" width="11.6" height="14.4" fill="#ff5252"/><rect x="1430.4" y="1142.2" width="11.6" height="7.3" fill="#ffcdd2"/><rect x="1444.4" y="1142.2" width="11.6" height="2.5" fill="#ffcdd2"/><rect x="1458.5" y="1141.3" width="11.6" height="1.5" fill="#26a69a"/><rect x="1472.5" y="1140.2" width="11.6" height="2.0" fill="#26a69a"/><rect x="1486.6" y="1138.2" width="11.6" height="4.0" fill="#26a69a"/><rect x="1500.7" y="1139.3" width="11.6" height="2.9" fill="#b2dfdb"/><rect x="1514.7" y="1141.2" width="11.6" height="1.5" fill="#b2dfdb"/><rect x="1528.8" y="1140.2" width="11.6" height="2.0" fill="#26a69a"/><rect x="1542.8" y="1139.3" width="11.6" height="2.9" fill="#26a69a"/><rect x="1556.9" y="1140.6" width="11.6" height="1.6" fill="#b2dfdb"/><rect x="1570.9" y="1140.6" width="11.6" height="1.6" fill="#b2dfdb"/><rect x="1585.0" y="1140.2" width="11.6" height="2.0" fill="#26a69a"/><rect x="1599.0" y="1137.2" width="11.6" height="5.0" fill="#26a69a"/><rect x="1613.1" y="1133.2" width="11.6" height="9.0" fill="#26a69a"/><rect x="1627.1" y="1133.2" width="11.6" height="9.0" fill="#26a69a"/><rect x="1641.2" y="1133.2" width="11.6" height="9.0" fill="#b2dfdb"/><rect x="1655.2" y="1132.2" width="11.6" height="10.0" fill="#26a69a"/><rect x="1669.3" y="1130.2" width="11.6" height="12.0" fill="#26a69a"/><rect x="1683.4" y="1126.2" width="11.6" height="16.0" fill="#26a69a"/><rect x="1697.4" y="1121.3" width="11.6" height="20.9" fill="#26a69a"/><rect x="1711.5" y="1117.1" width="11.6" height="25.1" fill="#26a69a"/><rect x="1725.5" y="1114.4" width="11.6" height="27.8" fill="#26a69a"/><rect x="1739.6" y="1117.2" width="11.6" height="25.0" fill="#b2dfdb"/><rect x="1753.6" y="1123.0" width="11.6" height="19.2" fill="#b2dfdb"/><rect x="1767.7" y="1128.2" width="11.6" height="14.0" fill="#b2dfdb"/><rect x="1781.7" y="1132.2" width="11.6" height="10.0" fill="#b2dfdb"/><rect x="1795.8" y="1138.2" width="11.6" height="4.0" fill="#b2dfdb"/><rect x="1809.8" y="1142.2" width="11.6" height="1.5" fill="#ff5252"/><rect x="1823.9" y="1142.2" width="11.6" height="6.4" fill="#ff5252"/><rect x="1837.9" y="1142.2" width="11.6" height="7.3" fill="#ff5252"/><rect x="1852.0" y="1142.2" width="11.6" height="9.4" fill="#ff5252"/><rect x="1866.1" y="1142.2" width="11.6" height="16.4" fill="#ff5252"/><rect x="1880.1" y="1142.2" width="11.6" height="20.3" fill="#ff5252"/><rect x="1894.2" y="1142.2" width="11.6" height="21.4" fill="#ff5252"/><rect x="1908.2" y="1142.2" width="11.6" height="22.3" fill="#ff5252"/><rect x="1922.3" y="1142.2" width="11.6" height="24.6" fill="#ff5252"/><polyline points="16.7,1158.4 30.8,1159.8 44.8,1159.8 58.9,1158.8 72.9,1158.3 87.0,1157.8 101.0,1156.1 115.1,1156.8 129.2,1164.4 143.2,1170.2 157.3,1173.1 171.3,1178.6 185.4,1181.3 199.4,1181.6 213.5,1164.8 227.5,1148.1 241.6,1134.1 255.6,1124.7 269.7,1119.4 283.8,1115.8 297.8,1113.0 311.9,1116.8 325.9,1128.8 340.0,1140.6 354.0,1147.9 368.1,1152.0 382.1,1151.6 396.2,1149.5 410.2,1150.6 424.3,1152.2 438.3,1154.9 452.4,1162.2 466.5,1168.9 480.5,1170.5 494.6,1167.6 508.6,1162.2 522.7,1158.5 536.7,1154.9 550.8,1148.2 564.8,1142.2 578.9,1135.8 592.9,1130.2 607.0,1129.9 621.0,1127.2 635.1,1127.8 649.2,1122.8 663.2,1118.1 677.3,1117.1 691.3,1115.9 705.4,1112.5 719.4,1105.8 733.5,1103.7 747.5,1105.4 761.6,1104.5 775.6,1103.7 789.7,1106.8 803.8,1118.8 817.8,1129.5 831.9,1136.8 845.9,1144.9 860.0,1151.6 874.0,1156.9 888.1,1159.3 902.1,1158.9 916.2,1154.0 930.2,1153.2 944.3,1151.8 958.3,1152.2 972.4,1153.2 986.5,1154.5 1000.5,1154.9 1014.6,1154.5 1028.6,1153.6 1042.7,1149.5 1056.7,1144.2 1070.8,1140.6 1084.8,1123.5 1098.9,1118.1 1112.9,1113.4 1127.0,1110.8 1141.0,1110.8 1155.1,1105.8 1169.2,1104.1 1183.2,1098.7 1197.3,1092.7 1211.3,1088.0 1225.4,1085.8 1239.4,1086.3 1253.5,1089.8 1267.5,1095.4 1281.6,1104.8 1295.6,1112.1 1309.7,1117.5 1323.7,1122.8 1337.8,1127.2 1351.9,1128.8 1365.9,1132.8 1380.0,1136.2 1394.0,1139.8 1408.1,1143.5 1422.1,1146.9 1436.2,1141.5 1450.2,1136.2 1464.3,1132.9 1478.3,1131.8 1492.4,1128.6 1506.5,1129.5 1520.5,1131.6 1534.6,1129.1 1548.6,1127.8 1562.7,1128.9 1576.7,1128.9 1590.8,1128.2 1604.8,1122.9 1618.9,1117.5 1632.9,1114.2 1647.0,1112.6 1661.0,1108.8 1675.1,1103.7 1689.2,1096.1 1703.2,1085.8 1717.3,1075.7 1731.3,1066.5 1745.4,1062.8 1759.4,1063.6 1773.5,1065.4 1787.5,1066.5 1801.6,1071.7 1815.6,1076.7 1829.7,1082.9 1843.7,1085.9 1857.8,1089.5 1871.9,1101.8 1885.9,1110.7 1900.0,1118.0 1914.0,1124.4 1928.1,1131.6" fill="none" stroke="#2d8fe0" stroke-width="1.7" stroke-linejoin="round"/><polyline points="16.7,1145.5 30.8,1147.1 44.8,1149.5 58.9,1151.5 72.9,1152.8 87.0,1153.7 101.0,1154.4 115.1,1154.8 129.2,1157.2 143.2,1159.9 157.3,1161.8 171.3,1164.2 185.4,1167.1 199.4,1170.2 213.5,1169.5 227.5,1165.5 241.6,1160.2 255.6,1154.1 269.7,1148.1 283.8,1142.1 297.8,1136.1 311.9,1130.2 325.9,1130.8 340.0,1134.2 354.0,1137.5 368.1,1140.2 382.1,1141.5 396.2,1142.9 410.2,1144.2 424.3,1145.5 438.3,1147.5 452.4,1150.2 466.5,1154.2 480.5,1157.6 494.6,1159.3 508.6,1159.6 522.7,1159.3 536.7,1158.2 550.8,1155.6 564.8,1152.2 578.9,1148.9 592.9,1145.9 607.0,1142.2 621.0,1138.9 635.1,1136.2 649.2,1133.5 663.2,1130.8 677.3,1128.2 691.3,1125.5 705.4,1122.4 719.4,1118.8 733.5,1116.1 747.5,1114.1 761.6,1112.1 775.6,1110.4 789.7,1109.7 803.8,1112.1 817.8,1116.1 831.9,1120.8 845.9,1126.1 860.0,1131.5 874.0,1133.9 888.1,1138.9 902.1,1142.9 916.2,1145.5 930.2,1146.9 944.3,1148.2 958.3,1149.1 972.4,1150.2 986.5,1151.1 1000.5,1152.0 1014.6,1152.6 1028.6,1152.9 1042.7,1151.8 1056.7,1150.2 1070.8,1147.5 1084.8,1142.9 1098.9,1138.2 1112.9,1132.8 1127.0,1128.2 1141.0,1124.1 1155.1,1121.5 1169.2,1116.8 1183.2,1112.1 1197.3,1107.4 1211.3,1102.8 1225.4,1099.7 1239.4,1097.4 1253.5,1096.5 1267.5,1096.7 1281.6,1098.7 1295.6,1102.1 1309.7,1105.4 1323.7,1109.4 1337.8,1113.0 1351.9,1116.5 1365.9,1119.7 1380.0,1123.2 1394.0,1126.4 1408.1,1130.2 1422.1,1133.1 1436.2,1134.4 1450.2,1134.9 1464.3,1134.0 1478.3,1133.6 1492.4,1132.6 1506.5,1132.2 1520.5,1131.8 1534.6,1131.3 1548.6,1130.5 1562.7,1130.2 1576.7,1129.9 1590.8,1129.5 1604.8,1128.2 1618.9,1125.9 1632.9,1123.5 1647.0,1120.6 1661.0,1117.9 1675.1,1114.8 1689.2,1111.2 1703.2,1106.1 1717.3,1100.1 1731.3,1092.1 1745.4,1086.2 1759.4,1081.8 1773.5,1078.4 1787.5,1076.2 1801.6,1075.1 1815.6,1075.4 1829.7,1077.3 1843.7,1079.2 1857.8,1081.2 1871.9,1085.7 1885.9,1091.2 1900.0,1096.8 1914.0,1101.8 1928.1,1107.0" fill="none" stroke="#ec7424" stroke-width="1.7" stroke-linejoin="round"/></g><text x="37.30" y="1095" font-family='"Liberation Sans", sans-serif' font-size="23" letter-spacing="0.836" fill="#131722">MACD (12, 26, close, 9)</text><text x="317.70" y="1095" font-family='"Liberation Sans", sans-serif' font-size="23" letter-spacing="0.757" fill="#d9505c">−0.00110</text><text x="434.40" y="1095" font-family='"Liberation Sans", sans-serif' font-size="23" letter-spacing="1.683" fill="#2f8fd8">0.00046</text><text x="544.60" y="1095" font-family='"Liberation Sans", sans-serif' font-size="23" letter-spacing="1.050" fill="#e9762b">0.00156</text><path d="M2076,1081.5 H2195 Q2199,1081.5 2199,1085.5 V1110.5 Q2199,1114.5 2195,1114.5 H2076 Z" fill="#ff6d00"/><text x="2093.30" y="1106.1" font-family='"Liberation Sans", sans-serif' font-size="24" letter-spacing="1.450" fill="#ffffff">0.00156</text><path d="M2076,1115 H2195 Q2199,1115 2199,1119 V1144 Q2199,1148 2195,1148 H2076 Z" fill="#2196f3"/><text x="2093.30" y="1139.6" font-family='"Liberation Sans", sans-serif' font-size="24" letter-spacing="1.450" fill="#ffffff">0.00046</text><path d="M2076,1149 H2211.5 Q2215.5,1149 2215.5,1153 V1178.3 Q2215.5,1182.3 2211.5,1182.3 H2076 Z" fill="#f7525f"/><text x="2093.00" y="1173.8" font-family='"Liberation Sans", sans-serif' font-size="24" letter-spacing="1.571" fill="#ffffff">−0.00110</text><text x="87.0" y="1241.7" text-anchor="middle" font-family='"Liberation Sans", sans-serif' font-size="23" font-weight="normal" letter-spacing="1" fill="#131722">21</text><text x="255.6" y="1241.7" text-anchor="middle" font-family='"Liberation Sans", sans-serif' font-size="23" font-weight="normal" letter-spacing="1" fill="#131722">24</text><text x="438.3" y="1241.7" text-anchor="middle" font-family='"Liberation Sans", sans-serif' font-size="23" font-weight="normal" letter-spacing="1" fill="#131722">27</text><text x="705.4" y="1241.7" text-anchor="middle" font-family='"Liberation Sans", sans-serif' font-size="23" font-weight="bold" letter-spacing="1" fill="#131722">Sep</text><text x="874.0" y="1241.7" text-anchor="middle" font-family='"Liberation Sans", sans-serif' font-size="23" font-weight="normal" letter-spacing="1" fill="#131722">3</text><text x="1042.7" y="1241.7" text-anchor="middle" font-family='"Liberation Sans", sans-serif' font-size="23" font-weight="normal" letter-spacing="1" fill="#131722">5</text><text x="1225.4" y="1241.7" text-anchor="middle" font-family='"Liberation Sans", sans-serif' font-size="23" font-weight="normal" letter-spacing="1" fill="#131722">9</text><text x="1394.0" y="1241.7" text-anchor="middle" font-family='"Liberation Sans", sans-serif' font-size="23" font-weight="normal" letter-spacing="1" fill="#131722">11</text><text x="1562.7" y="1241.7" text-anchor="middle" font-family='"Liberation Sans", sans-serif' font-size="23" font-weight="normal" letter-spacing="1" fill="#131722">14</text><text x="1745.4" y="1241.7" text-anchor="middle" font-family='"Liberation Sans", sans-serif' font-size="23" font-weight="normal" letter-spacing="1" fill="#131722">17</text><text x="1914.0" y="1241.7" text-anchor="middle" font-family='"Liberation Sans", sans-serif' font-size="23" font-weight="normal" letter-spacing="1" fill="#131722">19</text><g fill="#131722"><path d="M20.3,1284.4 H35 V1303 H27.6 V1291.3 H20.3 Z"/><circle cx="42.4" cy="1288.3" r="4"/><path d="M48,1284.4 H58.8 L52,1303 H43.3 Z"/></g><text x="67" y="1305" font-family='"Liberation Sans", sans-serif' font-size="26" letter-spacing="0.5" fill="#131722">TradingView</text></svg></body></html>
